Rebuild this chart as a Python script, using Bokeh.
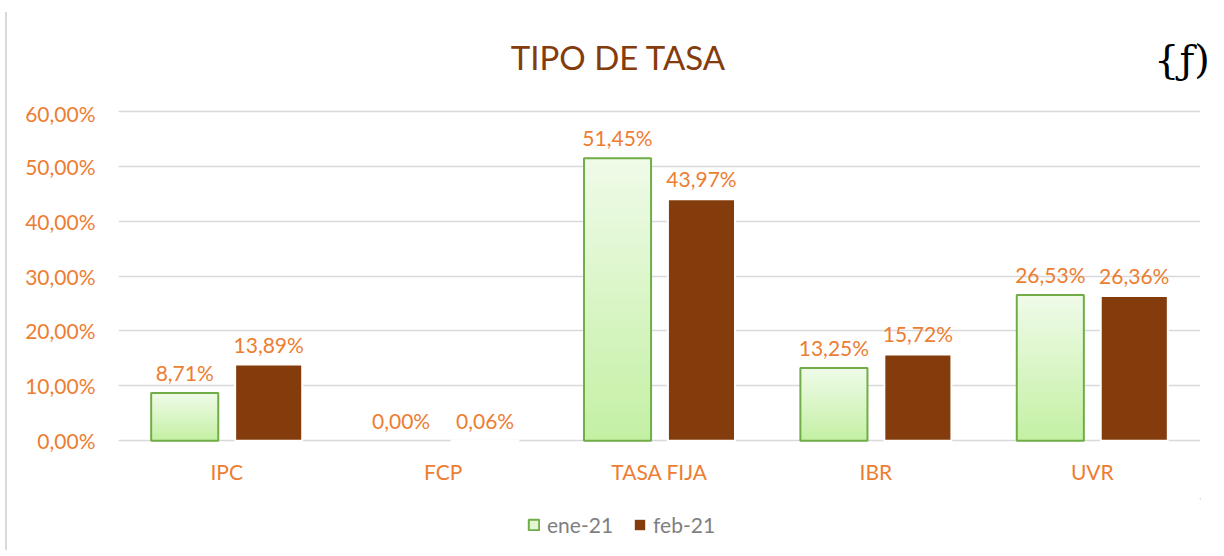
from bokeh.plotting import figure
from bokeh.layouts import column
from bokeh.models import (ColumnDataSource, FactorRange, Range1d, FixedTicker, CustomJSTickFormatter,
                          Legend, LegendItem, Div)
from bokeh.transform import dodge
from bokeh.core.properties import value
from bokeh.embed import file_html
from bokeh.resources import INLINE

# ---- data ----
categories = ["IPC", "FCP", "TASA FIJA", "IBR", "UVR"]
series_names = ["ene-21", "feb-21"]
ene_21 = [8.71, 0.00, 51.45, 13.25, 26.53]
feb_21 = [13.89, 0.06, 43.97, 15.72, 26.36]
y_ticks = [0, 10, 20, 30, 40, 50, 60]
title_text = "TIPO DE TASA"
logo_text = "{ƒ)"

# ---- styles ----
FONT = "Lato"
ORANGE = "#ED7D31"
BROWN = "#843C0C"
GREEN_LINE = "#70AD47"
GRID = "#D9D9D9"
GREY_TXT = "#7F7F7F"
GRAD_BOTTOM = (196, 240, 164)
GRAD_TOP = (240, 251, 234)
N_SLICES = 40
OFF = 0.194
BAR_W = 0.31
W = 1220
FS = "21px"

# ---- header (title + logo) ----
header = Div(
    text=(f'<div style="position:relative;width:{W}px;height:100px;">'
          f'<div style="position:absolute;left:0;top:38px;width:1236px;text-align:center;'
          f'font-family:{FONT};font-size:33px;line-height:38px;color:{BROWN};">{title_text}</div>'
          f'<div style="position:absolute;left:1154px;top:34px;font-family:\'DejaVu Serif\';'
          f'font-size:40px;line-height:50px;color:black;">{logo_text}</div></div>'),
    width=W, height=100, margin=(0, 0, 0, 0))

# ---- main chart ----
p = figure(x_range=FactorRange(*categories), y_range=Range1d(-0.3, 60.3), width=W, height=398,
           output_backend="svg", toolbar_location=None, margin=(0, 0, 0, 0),
           min_border_left=118, min_border_right=20, min_border_top=9, min_border_bottom=56)
p.x_range.range_padding = 0
p.outline_line_color = None
p.border_fill_color = None
p.xgrid.grid_line_color = None
p.ygrid.grid_line_color = GRID
p.ygrid.grid_line_width = 1.5

p.yaxis.ticker = FixedTicker(ticks=y_ticks)
p.yaxis.formatter = CustomJSTickFormatter(code="return tick.toFixed(2).replace('.', ',') + '%';")
for ax in (p.xaxis[0], p.yaxis[0]):
    ax.axis_line_color = None
    ax.major_tick_line_color = None
    ax.minor_tick_line_color = None
    ax.major_label_text_color = ORANGE
    ax.major_label_text_font = FONT
    ax.major_label_text_font_size = FS
p.yaxis.major_label_standoff = 17
p.xaxis.major_label_standoff = 10

def lerp(a, b, t):
    return "#%02x%02x%02x" % tuple(int(round(a[i] + (b[i] - a[i]) * t)) for i in range(3))

gx, gb, gt, gc = [], [], [], []
for k in range(N_SLICES):
    t = k / N_SLICES
    for c, v in zip(categories, ene_21):
        if v <= 0:
            continue
        gx.append(c)
        gb.append(v * t)
        gt.append(v)
        gc.append(lerp(GRAD_BOTTOM, GRAD_TOP, t))
grad_src = ColumnDataSource(dict(x=gx, bottom=gb, top=gt, color=gc))
p.vbar(x=dodge("x", -OFF, range=p.x_range), bottom="bottom", top="top", width=BAR_W,
       source=grad_src, fill_color="color", line_color=None)

src = ColumnDataSource(dict(cat=categories, ene=ene_21, feb=feb_21,
                            ene_line=[GREEN_LINE if v > 0 else "rgba(0,0,0,0)" for v in ene_21],
                            ene_lbl=[f"{v:.2f}".replace(".", ",") + "%" for v in ene_21],
                            feb_lbl=[f"{v:.2f}".replace(".", ",") + "%" for v in feb_21]))
p.vbar(x=dodge("cat", -OFF, range=p.x_range), top="ene", width=BAR_W, source=src,
       fill_color=None, line_color="ene_line", line_width=2)
p.vbar(x=dodge("cat", OFF, range=p.x_range), top="feb", width=BAR_W, source=src,
       fill_color=BROWN, line_color="white", line_width=2)

for col, lbl, off in (("ene", "ene_lbl", -OFF), ("feb", "feb_lbl", OFF)):
    p.text(x=dodge("cat", off, range=p.x_range), y=col, text=lbl, source=src,
           text_align="center", text_baseline="bottom", y_offset=-8,
           text_color=ORANGE, text_font=value(FONT), text_font_size=FS)

# ---- legend strip ----
lf = figure(width=W, height=52, output_backend="svg", toolbar_location=None,
            x_range=(0, 1), y_range=(0, 1), margin=(0, 0, 0, 0),
            min_border=0, min_border_left=0, min_border_right=0, min_border_top=0, min_border_bottom=0)
lf.axis.visible = False
lf.grid.visible = False
lf.outline_line_color = None
lf.border_fill_color = None
lf.background_fill_color = None
r1 = lf.vbar(x=[5], top=[5], bottom=[4], width=0.1, fill_color="#E2F6D6",
             line_color=GREEN_LINE, line_width=2)
r2 = lf.vbar(x=[5], top=[5], bottom=[4], width=0.1, fill_color=BROWN, line_color=None)
legend = Legend(items=[LegendItem(label=series_names[0], renderers=[r1]),
                       LegendItem(label=series_names[1], renderers=[r2])],
                orientation="horizontal", location=(409, 13),
                label_text_color=GREY_TXT, label_text_font=FONT, label_text_font_size=FS,
                glyph_width=13, glyph_height=13, spacing=20, label_standoff=7,
                border_line_color=None, background_fill_alpha=0, padding=0, margin=0)
lf.add_layout(legend)

layout = column(header, p, lf, spacing=0, margin=(0, 0, 0, 0),
                styles={"background": "linear-gradient(#D9D9D9, #D9D9D9) 5px 12px / 2px 100% no-repeat"})

open("out.html", "w").write(file_html(layout, INLINE))
